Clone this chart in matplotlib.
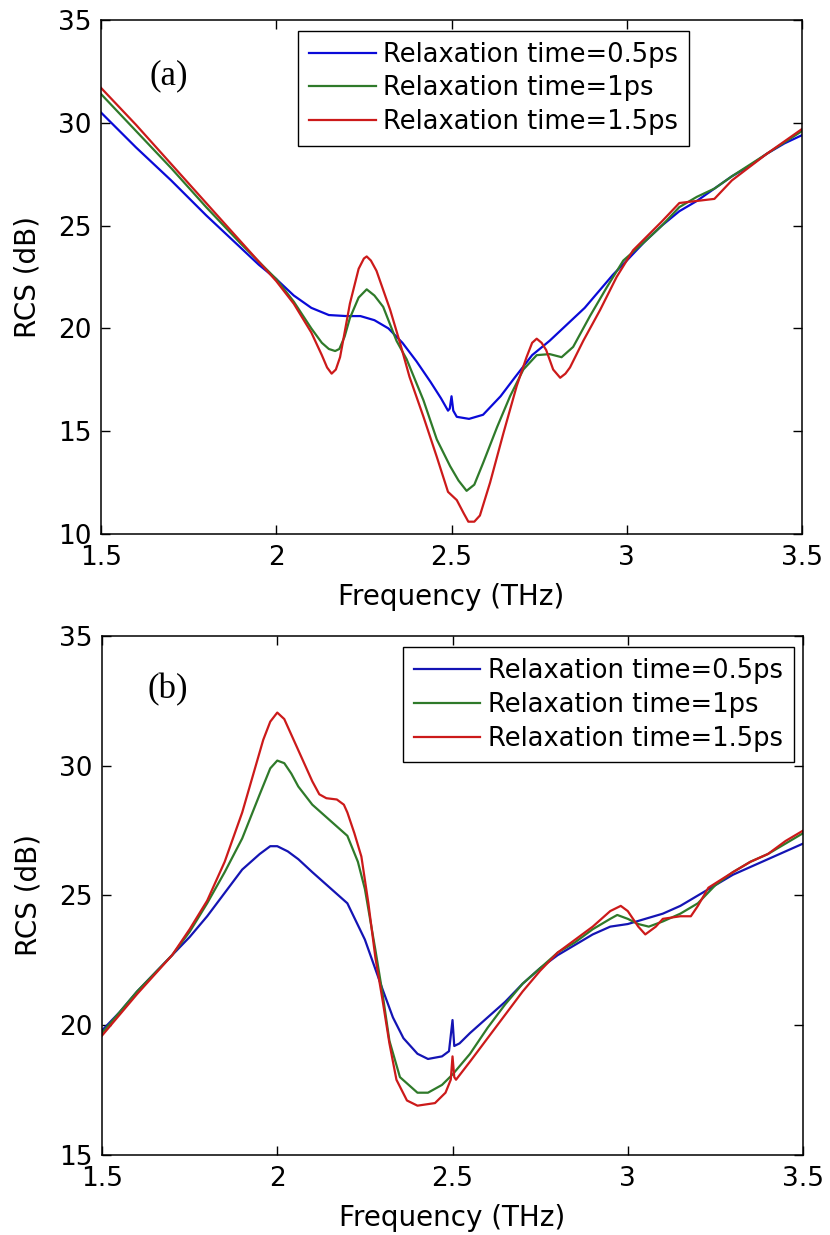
import matplotlib
matplotlib.use("Agg")
import matplotlib.pyplot as plt

# ---- data: panel (a) ----
a_blue_x = [1.5, 1.6, 1.7, 1.8, 1.9, 1.95, 2.0, 2.05, 2.1, 2.15, 2.2, 2.24, 2.28,
            2.32, 2.36, 2.4, 2.44, 2.47, 2.49, 2.495, 2.5, 2.505, 2.515, 2.55,
            2.59, 2.64, 2.68, 2.73, 2.78, 2.83, 2.88, 2.92, 2.96, 3.0, 3.05,
            3.1, 3.15, 3.2, 3.25, 3.3, 3.35, 3.4, 3.45, 3.5]
a_blue_y = [30.5, 28.8, 27.2, 25.5, 23.9, 23.1, 22.4, 21.6, 21.0, 20.65, 20.6, 20.6, 20.4,
            20.0, 19.3, 18.4, 17.4, 16.6, 16.0, 16.1, 16.7, 16.0, 15.7, 15.6,
            15.8, 16.7, 17.6, 18.7, 19.4, 20.2, 21.0, 21.8, 22.6, 23.3, 24.2,
            25.0, 25.7, 26.2, 26.8, 27.4, 27.9, 28.5, 29.0, 29.4]

a_green_x = [1.5, 1.6, 1.7, 1.8, 1.9, 2.0, 2.05, 2.1, 2.13, 2.15, 2.168, 2.18, 2.195,
             2.21, 2.235, 2.258, 2.28, 2.305, 2.343, 2.372, 2.42, 2.458, 2.496,
             2.52, 2.543, 2.565, 2.59, 2.63, 2.667, 2.705, 2.743, 2.78, 2.814,
             2.847, 2.895, 2.943, 2.99, 3.05, 3.1, 3.15, 3.2, 3.25, 3.3, 3.4, 3.5]
a_green_y = [31.4, 29.6, 27.8, 25.9, 24.1, 22.4, 21.3, 20.0, 19.3, 19.0, 18.9, 19.0, 19.6,
             20.5, 21.5, 21.9, 21.6, 21.05, 19.4, 18.5, 16.5, 14.6, 13.3,
             12.6, 12.1, 12.4, 13.45, 15.2, 16.7, 18.0, 18.7, 18.75, 18.6,
             19.1, 20.6, 22.0, 23.3, 24.2, 25.0, 25.9, 26.4, 26.8, 27.4, 28.5, 29.6]

a_red_x = [1.5, 1.6, 1.7, 1.8, 1.9, 2.0, 2.05, 2.1, 2.13, 2.145, 2.158, 2.17, 2.182,
           2.195, 2.21, 2.235, 2.25, 2.258, 2.27, 2.286, 2.325, 2.353, 2.38, 2.42,
           2.458, 2.49, 2.515, 2.535, 2.548, 2.565, 2.581, 2.61, 2.648, 2.686,
           2.714, 2.73, 2.743, 2.757, 2.77, 2.79, 2.81, 2.825, 2.838, 2.876,
           2.924, 2.971, 3.018, 3.1, 3.15, 3.2, 3.25, 3.3, 3.4, 3.5]
a_red_y = [31.7, 29.9, 28.0, 26.1, 24.2, 22.3, 21.2, 19.8, 18.7, 18.1, 17.8, 18.0, 18.6,
           19.8, 21.2, 22.9, 23.4, 23.5, 23.3, 22.8, 20.9, 19.3, 17.65, 15.7,
           13.75, 12.05, 11.65, 11.0, 10.6, 10.6, 10.9, 12.5, 14.9, 17.2,
           18.6, 19.3, 19.5, 19.3, 18.95, 18.0, 17.6, 17.8, 18.1, 19.4,
           20.9, 22.5, 23.8, 25.2, 26.1, 26.2, 26.3, 27.2, 28.5, 29.7]

# ---- data: panel (b) ----
b_blue_x = [1.5, 1.55, 1.6, 1.65, 1.7, 1.75, 1.8, 1.85, 1.9, 1.95, 1.98, 2.0, 2.03,
            2.06, 2.1, 2.15, 2.2, 2.25, 2.3, 2.33, 2.36, 2.4, 2.43, 2.47, 2.49,
            2.5, 2.505, 2.52, 2.55, 2.6, 2.65, 2.7, 2.75, 2.8, 2.85, 2.9, 2.95,
            3.0, 3.05, 3.1, 3.15, 3.2, 3.25, 3.3, 3.35, 3.4, 3.45, 3.5]
b_blue_y = [19.8, 20.5, 21.3, 22.0, 22.7, 23.4, 24.2, 25.1, 26.0, 26.6, 26.9, 26.9, 26.7,
            26.4, 25.9, 25.3, 24.7, 23.3, 21.4, 20.3, 19.5, 18.9, 18.7, 18.8, 19.0,
            20.2, 19.2, 19.3, 19.7, 20.3, 20.9, 21.6, 22.2, 22.7, 23.1, 23.5, 23.8,
            23.9, 24.1, 24.3, 24.6, 25.0, 25.4, 25.8, 26.1, 26.4, 26.7, 27.0]

b_green_x = [1.5, 1.6, 1.7, 1.75, 1.8, 1.85, 1.9, 1.95, 1.98, 2.0, 2.02, 2.04, 2.06,
             2.1, 2.15, 2.2, 2.23, 2.25, 2.28, 2.3, 2.32, 2.35, 2.4, 2.43, 2.47,
             2.5, 2.55, 2.6, 2.65, 2.7, 2.75, 2.8, 2.85, 2.9, 2.95, 2.97, 3.0,
             3.03, 3.06, 3.1, 3.15, 3.2, 3.25, 3.3, 3.35, 3.4, 3.45, 3.5]
b_green_y = [19.7, 21.3, 22.7, 23.6, 24.7, 25.9, 27.2, 28.9, 29.9, 30.2, 30.1, 29.7, 29.2,
             28.5, 27.9, 27.3, 26.3, 25.25, 22.9, 21.25, 19.4, 18.0, 17.4, 17.4, 17.7,
             18.1, 18.9, 19.9, 20.8, 21.6, 22.2, 22.8, 23.2, 23.7, 24.1, 24.25, 24.1,
             23.9, 23.8, 24.0, 24.3, 24.7, 25.4, 25.9, 26.3, 26.6, 27.0, 27.4]

b_red_x = [1.5, 1.6, 1.7, 1.75, 1.8, 1.85, 1.9, 1.93, 1.96, 1.98, 2.0, 2.02, 2.04,
           2.06, 2.08, 2.1, 2.12, 2.14, 2.17, 2.19, 2.2, 2.22, 2.24, 2.26, 2.28,
           2.3, 2.32, 2.34, 2.37, 2.4, 2.45, 2.48, 2.495, 2.5, 2.505, 2.51, 2.55,
           2.6, 2.65, 2.7, 2.75, 2.8, 2.85, 2.9, 2.95, 2.98, 3.0, 3.03, 3.05,
           3.08, 3.1, 3.15, 3.18, 3.2, 3.23, 3.3, 3.35, 3.4, 3.45, 3.5]
b_red_y = [19.6, 21.2, 22.7, 23.7, 24.8, 26.3, 28.2, 29.6, 31.0, 31.7, 32.05, 31.8, 31.2,
           30.6, 30.0, 29.4, 28.9, 28.75, 28.7, 28.5, 28.2, 27.4, 26.5, 24.7, 22.6,
           21.0, 19.3, 17.9, 17.1, 16.9, 17.0, 17.4, 17.9, 18.8, 18.0, 17.9, 18.6,
           19.5, 20.4, 21.3, 22.1, 22.8, 23.3, 23.8, 24.4, 24.6, 24.4, 23.8, 23.5,
           23.8, 24.1, 24.2, 24.2, 24.6, 25.3, 25.9, 26.3, 26.6, 27.1, 27.5]

labels = ["Relaxation time=0.5ps", "Relaxation time=1ps", "Relaxation time=1.5ps"]
x_ticks = [1.5, 2, 2.5, 3, 3.5]
x_tick_labels = ["1.5", "2", "2.5", "3", "3.5"]
a_y_ticks = [10, 15, 20, 25, 30, 35]
b_y_ticks = [15, 20, 25, 30, 35]


def draw_panel(ax, series, colours, y_ticks, tag, tag_pos, legend_anchor):
    for (xs, ys), colour, label in zip(series, colours, labels):
        ax.plot(xs, ys, color=colour, linewidth=1.6, label=label)
    ax.set_xlim(1.5, 3.5)
    ax.set_ylim(y_ticks[0], y_ticks[-1])
    ax.set_xticks(x_ticks, labels=x_tick_labels)
    ax.set_yticks(y_ticks, labels=[str(t) for t in y_ticks])
    ax.tick_params(direction="in", top=True, right=True, length=6.5,
                   width=1, labelsize=19)
    ax.tick_params(axis="x", pad=8)
    ax.tick_params(axis="y", pad=7)
    for spine in ax.spines.values():
        spine.set_linewidth(1.1)
    ax.set_xlabel("Frequency (THz)", fontsize=20)
    ax.set_ylabel("RCS (dB)", fontsize=20)
    ax.xaxis.set_label_coords(0.5, -0.095)
    ax.yaxis.set_label_coords(-0.085, 0.5)
    ax.text(tag_pos[0], tag_pos[1], tag, transform=ax.transAxes,
            family="Liberation Serif", fontsize=25, ha="center", va="center")
    leg = ax.legend(loc="upper right", bbox_to_anchor=legend_anchor,
                    borderaxespad=0, fontsize=18.5, handlelength=2.6,
                    handletextpad=0.3, labelspacing=0.3, borderpad=0.42,
                    fancybox=False, framealpha=1, edgecolor="black")
    leg.get_frame().set_linewidth(1.0)


fig = plt.figure(figsize=(8.3, 12.35), dpi=100)
ax_a = fig.add_axes([0.1217, 0.5676, 0.8446, 0.4162])
ax_b = fig.add_axes([0.1229, 0.0648, 0.8446, 0.4202])

draw_panel(ax_a,
           [(a_blue_x, a_blue_y), (a_green_x, a_green_y), (a_red_x, a_red_y)],
           ["#0a0ad8", "#2f7a2a", "#cc1a1a"], a_y_ticks, "(a)",
           (0.097, 0.892), (0.839, 0.979))
draw_panel(ax_b,
           [(b_blue_x, b_blue_y), (b_green_x, b_green_y), (b_red_x, b_red_y)],
           ["#1414b4", "#2f7a2a", "#cc1a1a"], b_y_ticks, "(b)",
           (0.094, 0.897), (0.987, 0.978))

fig.savefig("out.png", dpi=100)
